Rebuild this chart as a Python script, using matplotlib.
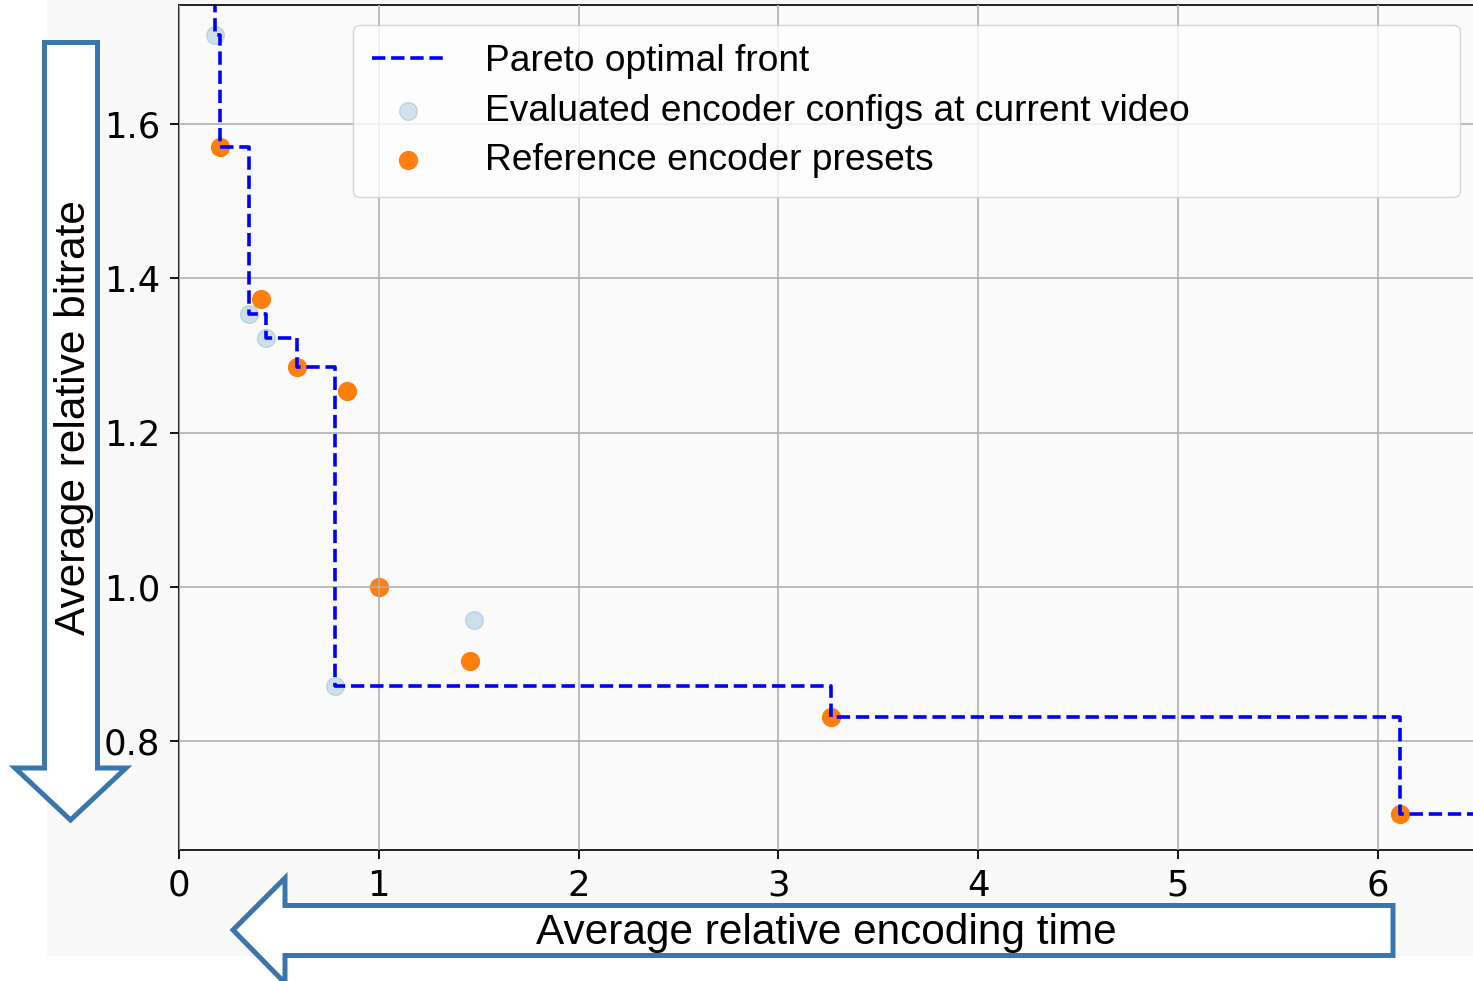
import numpy as np
import matplotlib.pyplot as plt
from matplotlib.patches import Polygon, Rectangle

# evaluated encoder configs (light blue), two of them lie outside the view
eval_time = [0.12, 0.18, 0.35, 0.435, 0.78, 1.476, 7.5]
eval_rate = [1.90, 1.715, 1.354, 1.322, 0.871, 0.957, 0.62]

# reference encoder presets (orange)
ref_time = [0.205, 0.41, 0.59, 0.84, 1.0, 1.456, 3.263, 6.11]
ref_rate = [1.570, 1.373, 1.285, 1.254, 1.0, 0.904, 0.831, 0.705]

xticks = [0, 1, 2, 3, 4, 5, 6]
yticks = [0.8, 1.0, 1.2, 1.4, 1.6]
legend_labels = ['Pareto optimal front',
                 'Evaluated encoder configs at current video',
                 'Reference encoder presets']
xlabel = 'Average relative encoding time'
ylabel = 'Average relative bitrate'

# pareto front from all points
pts = sorted(zip(eval_time + ref_time, eval_rate + ref_rate))
front_t, front_r = [], []
best = np.inf
for t, r in pts:
    if r < best:
        front_t.append(t)
        front_r.append(r)
        best = r

W, H = 1473, 981
def fx(p):
    return p / W
def fy(p):
    return 1 - p / H

fig = plt.figure(figsize=(W / 100, H / 100), dpi=100, facecolor='white')
fig.add_artist(Rectangle((fx(47), fy(955)), fx(1473) - fx(47), fy(0) - fy(955),
                         transform=fig.transFigure, color='#f9f9f9', zorder=-1))

ax = fig.add_axes([fx(179), fy(850), fx(1473) - fx(179), fy(5) - fy(850)])
ax.set_facecolor('#fafafa')

ax.scatter(eval_time, eval_rate, s=165, color='tab:blue', alpha=0.2,
           label=legend_labels[1], zorder=1)
ax.scatter(ref_time, ref_rate, s=165, color='tab:orange',
           label=legend_labels[2], zorder=1.5)
ax.plot(front_t, front_r, '--', drawstyle='steps-post', color='#0000ff', lw=2.6,
        label=legend_labels[0], zorder=3)

ax.set_xlim(0, (1473 - 179) / 199.8)
ax.set_ylim(0.6587, 1.7543)
ax.set_xticks(xticks)
ax.set_yticks(yticks)
ax.set_xticklabels([str(v) for v in xticks])
ax.set_yticklabels([f'{v:.1f}' for v in yticks])
ax.tick_params(labelsize=25.5, length=6.5, width=1.3, pad=7)
ax.set_axisbelow(False)
ax.grid(True, color='#b0b0b0', lw=1.2, zorder=2.5)
ax.spines['right'].set_visible(False)
for s in ['top', 'bottom', 'left']:
    ax.spines[s].set_linewidth(1.4)
    ax.spines[s].set_color('#222222')

h, l = ax.get_legend_handles_labels()
order = [2, 0, 1]
ax.legend([h[i] for i in order], [l[i] for i in order],
          bbox_to_anchor=(fx(353), fy(197), fx(1460) - fx(353), fy(25) - fy(197)),
          bbox_transform=fig.transFigure, loc='upper left', mode='expand',
          borderaxespad=0, scatterpoints=1, handlelength=1.95, handletextpad=1.1,
          labelspacing=0.39, borderpad=0.52,
          prop={'family': 'Liberation Sans', 'size': 26.7})

# outlined arrows with the axis titles
blue = '#3a76ae'
down = [(44.5, 42.5), (97.5, 42.5), (97.5, 768), (126, 768), (70.5, 820),
        (15, 768), (44.5, 768)]
left = [(1393, 905.5), (1393, 955.5), (285, 955.5), (285, 983), (233, 930),
        (285, 878), (285, 905.5)]
for poly in [down, left]:
    fig.add_artist(Polygon([(fx(x), fy(y)) for x, y in poly], closed=True,
                           transform=fig.transFigure, facecolor='white',
                           edgecolor=blue, lw=3.6, joinstyle='miter', zorder=5))

fig.text(fx(74), fy(418), ylabel, rotation=90, ha='center', va='center',
         family='Liberation Sans', fontsize=30.5, zorder=6)
fig.text(fx(826), fy(933), xlabel, ha='center', va='center',
         family='Liberation Sans', fontsize=30.5, zorder=6)

fig.savefig('out.png', dpi=100)
